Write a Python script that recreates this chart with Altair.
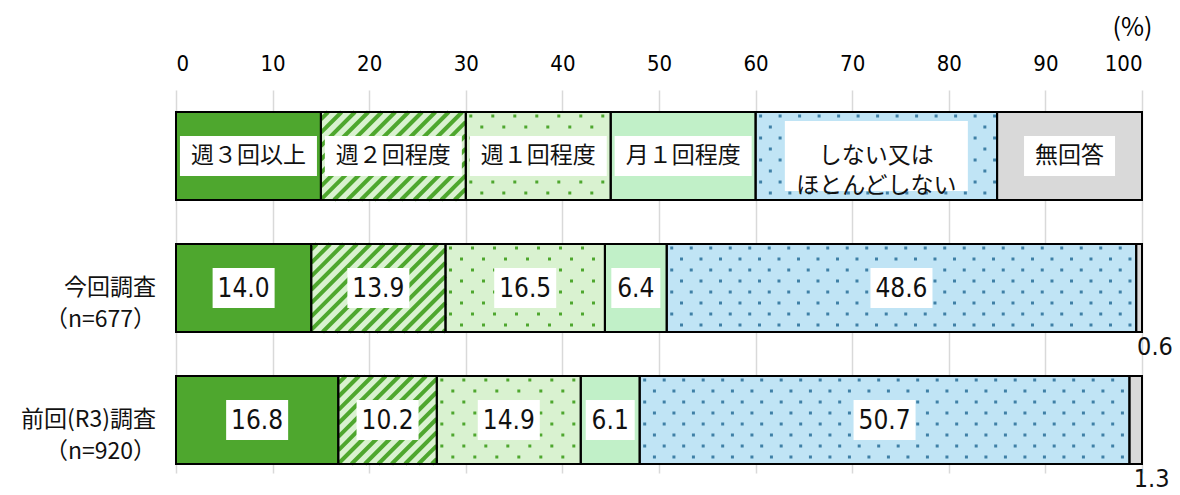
import math
import altair as alt
import pandas as pd

# ---------------- data ----------------
categories = ["週３回以上", "週２回程度", "週１回程度", "月１回程度", "しない又は\nほとんどしない", "無回答"]
legend_span = [15, 15, 15, 15, 25, 15]
survey_labels = ["今回調査\n（n=677）", "前回(R3)調査\n（n=920）"]
current_values = [14.0, 13.9, 16.5, 6.4, 48.6, 0.6]
previous_values = [16.8, 10.2, 14.9, 6.1, 50.7, 1.3]
tick_values = [0, 10, 20, 30, 40, 50, 60, 70, 80, 90, 100]

# ---------------- styles ----------------
fills = ["#4EA72E", "#D9F2D0", "#D9F2D0", "#C1F0C8", "#C0E4F5", "#D9D9D9"]
patterns = [None, "stripe", "dot", None, "dot", None]
pattern_colors = [None, "#4EA72E", "#4EA72E", None, "#3F80A6", None]
dot_step = [None, None, 22.0, None, 19.5, None]

JP = "Noto Sans CJK JP"
NUM = "DejaVu Sans Condensed"

W = 966          # plot width
H = 383          # plot height
ROW = 132        # px per row
XS = W / 100.0   # px per percent
YMAX = H / ROW

# ---------------- build tables ----------------
seg_rows = []
rows_data = [legend_span, current_values, previous_values]
for r, vals in enumerate(rows_data):
    start = 0.0
    for i, v in enumerate(vals):
        seg_rows.append(dict(row=r, ci=i, x0=start, x1=start + v,
                             y0=r + 1 / 6, y1=r + 5 / 6, yc=r + 0.5,
                             value=v, fill=fills[i]))
        start += v
segs = pd.DataFrame(seg_rows)

# stripes (derived from segment bounds)
stripe_rows = []
s = 13.4
for sg in seg_rows:
    if patterns[sg["ci"]] != "stripe":
        continue
    X0, X1 = sg["x0"] * XS, sg["x1"] * XS
    Y0, Y1 = sg["y0"] * ROW, sg["y1"] * ROW
    c = math.ceil((X0 + Y0) / s) * s
    while c < X1 + Y1:
        ylo = max(Y0, c - X1)
        yhi = min(Y1, c - X0)
        if yhi - ylo > 0.5:
            stripe_rows.append(dict(xa=(c - ylo) / XS, ya=ylo / ROW,
                                    xb=(c - yhi) / XS, yb=yhi / ROW,
                                    color=pattern_colors[sg["ci"]]))
        c += s
stripes = pd.DataFrame(stripe_rows)

# dots (derived from segment bounds)
dot_rows = []
for sg in seg_rows:
    if patterns[sg["ci"]] != "dot":
        continue
    dx = dot_step[sg["ci"]]
    X0, X1 = sg["x0"] * XS, sg["x1"] * XS
    Y0, Y1 = sg["y0"] * ROW, sg["y1"] * ROW
    k = 0
    yy = Y0 + 4
    while yy < Y1 - 2:
        xx = X0 + 5 + (k % 2) * dx / 2
        while xx < X1 - 2:
            dot_rows.append(dict(x=xx / XS, y=yy / ROW, color=pattern_colors[sg["ci"]]))
            xx += dx
        yy += 11
        k += 1
dots = pd.DataFrame(dot_rows)

# label boxes and texts
box_rows, legend_text_rows, value_text_rows, small_text_rows = [], [], [], []
for sg in seg_rows:
    xc = (sg["x0"] + sg["x1"]) / 2
    if sg["row"] == 0:
        label = categories[sg["ci"]]
        lines = label.split("\n")
        bw = max(len(l) for l in lines) * 23 + 22
        bh = len(lines) * 30 + 10
        legend_text_rows.append(dict(x=xc, y=sg["yc"], text=label))
    else:
        txt = f"{sg['value']:.1f}"
        if sg["value"] < 2:
            small_text_rows.append(dict(x=xc, y=sg["y1"], text=txt))
            continue
        bw = len(txt) * 13 + 10
        bh = 40
        value_text_rows.append(dict(x=xc, y=sg["yc"], text=txt))
    box_rows.append(dict(bx0=xc - bw / 2 / XS, bx1=xc + bw / 2 / XS,
                         by0=sg["yc"] - bh / 2 / ROW, by1=sg["yc"] + bh / 2 / ROW))
boxes = pd.DataFrame(box_rows)
legend_texts = pd.DataFrame(legend_text_rows)
value_texts = pd.DataFrame(value_text_rows)
small_texts = pd.DataFrame(small_text_rows)
row_labels = pd.DataFrame(dict(y=[1.5, 2.5], text=survey_labels))

# ---------------- encodings ----------------
xscale = alt.Scale(domain=[0, 100], nice=False, zero=False)
yscale = alt.Scale(domain=[0, YMAX], nice=False, zero=False, reverse=True)
xaxis = alt.Axis(orient="top", values=tick_values, grid=True, gridColor="#D9D9D9",
                 gridWidth=1.5, ticks=False, tickSize=0, domain=False,
                 labelFont=NUM, labelFontSize=22, labelColor="#000000",
                 labelPadding=15, title="(%)", titleFont=JP, titleFontSize=25,
                 titleFontWeight="normal", titleColor="#000000",
                 titleX=976, titleY=-63, titleAlign="right",
                 titleBaseline="middle", titleAngle=0)


def X(f):
    return alt.X(f, type="quantitative", scale=xscale, axis=xaxis)


def Y(f):
    return alt.Y(f, type="quantitative", scale=yscale, axis=None)


bars = alt.Chart(segs).mark_rect(strokeWidth=0).encode(
    x=X("x0"), x2="x1", y=Y("y0"), y2="y1",
    fill=alt.Fill("fill:N", scale=None))

stripe_layer = alt.Chart(stripes).mark_rule(strokeWidth=4, strokeCap="butt").encode(
    x=X("xa"), x2="xb", y=Y("ya"), y2="yb",
    color=alt.Color("color:N", scale=None))

dot_layer = alt.Chart(dots).mark_square(size=9, filled=True, opacity=1).encode(
    x=X("x"), y=Y("y"), color=alt.Color("color:N", scale=None))

box_layer = alt.Chart(boxes).mark_rect(fill="#FFFFFF", strokeWidth=0).encode(
    x=X("bx0"), x2="bx1", y=Y("by0"), y2="by1")

legend_text_layer = alt.Chart(legend_texts).mark_text(
    font=JP, fontSize=23, lineBreak="\n", lineHeight=30, color="#111111",
    align="center", baseline="middle").encode(
    x=X("x"), y=Y("y"), text="text:N")

value_text_layer = alt.Chart(value_texts).mark_text(
    font=NUM, fontSize=26, color="#111111", align="center", baseline="middle",
    dy=1).encode(x=X("x"), y=Y("y"), text="text:N")

small_text_layer = alt.Chart(small_texts).mark_text(
    font=NUM, fontSize=25, color="#111111", align="left", baseline="top",
    dx=-2, dy=3).encode(x=X("x"), y=Y("y"), text="text:N")

outline_layer = alt.Chart(segs).mark_rect(fillOpacity=0, stroke="#000000",
                                          strokeWidth=2).encode(
    x=X("x0"), x2="x1", y=Y("y0"), y2="y1")

row_label_layer = alt.Chart(row_labels).mark_text(
    font=JP, fontSize=23, lineBreak="\n", lineHeight=32, color="#111111",
    align="right", baseline="middle").encode(
    x=alt.value(-20), y=Y("y"), text="text:N")

chart = alt.layer(
    bars, stripe_layer, dot_layer, box_layer, outline_layer,
    legend_text_layer, value_text_layer, small_text_layer, row_label_layer
).properties(
    width=W, height=H,
    padding={"left": 168, "top": 82, "right": 30, "bottom": 20},
    autosize=alt.AutoSizeParams(type="none"),
).configure_view(stroke="transparent")

chart.save("out.html", embed_options={"renderer": "svg", "actions": False})
